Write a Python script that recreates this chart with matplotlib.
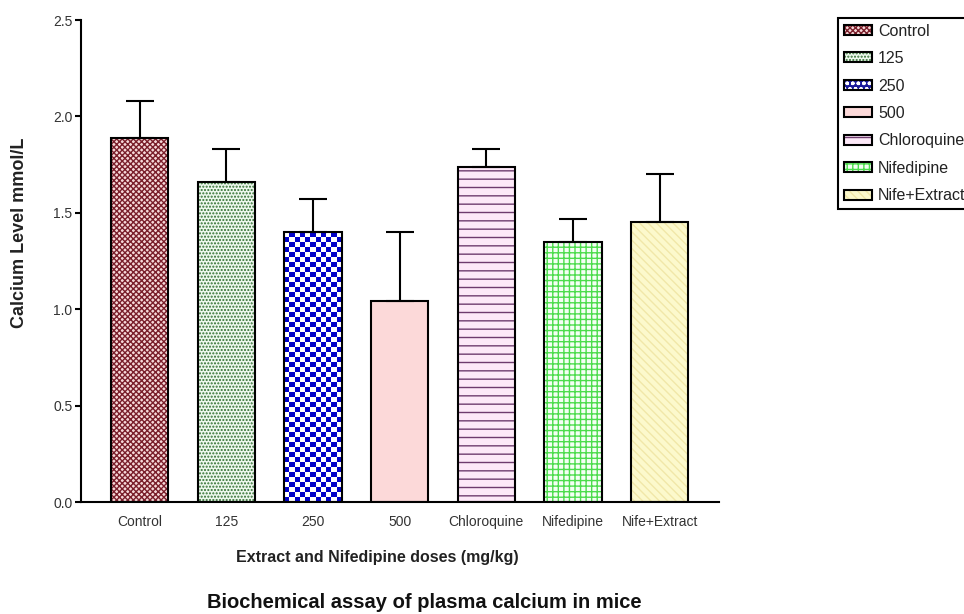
import matplotlib.pyplot as plt
import numpy as np
from matplotlib.patches import Patch
from matplotlib.colors import ListedColormap

plt.rcParams['font.family'] = ['Liberation Sans', 'DejaVu Sans']
plt.rcParams['hatch.linewidth'] = 1.0

# plasma calcium, mean and SEM (mmol/L)
groups = ['Control', '125', '250', '500', 'Chloroquine', 'Nifedipine', 'Nife+Extract']
calcium_mean = [1.89, 1.66, 1.40, 1.04, 1.74, 1.35, 1.45]
calcium_sem = [0.19, 0.17, 0.17, 0.36, 0.09, 0.12, 0.25]

# fill colour, hatch colour, hatch for each group (250 gets a checker texture)
face_colors = ['#f6d8d8', '#eef8ee', '#ffffff', '#fcd9d9', '#fde9f8', '#f4fff4', '#fcf9cc']
hatch_colors = ['#7a1f2b', '#2f6e2f', '#0000c8', '#fcd9d9', '#6e3c6e', '#4cdc4c', '#f1e7a8']
hatches = ['xxxxxx', '.....', '', '', '--', '+++', '\\\\\\\\']


def draw_chart():
    fig = plt.figure(figsize=(9.64, 6.14), dpi=100)
    ax = fig.add_axes([0.0837, 0.1824, 0.6626, 0.7850])

    x = np.arange(len(groups))
    width = 0.66

    ax.bar(x, calcium_mean, width, color=face_colors, edgecolor=hatch_colors,
           hatch=hatches, linewidth=0, zorder=2)

    # checkerboard for the 250 mg/kg bar
    i = groups.index('250')
    x0 = x[i] - width / 2
    h = calcium_mean[i]
    ncols = 11
    nrows = int(round(h / 0.026))
    checker = np.add.outer(np.arange(nrows), np.arange(ncols)) % 2
    ax.imshow(checker, extent=(x0, x0 + width, 0, h), aspect='auto',
              cmap=ListedColormap(['white', '#0000c8']), interpolation='nearest',
              origin='upper', zorder=2)

    ax.bar(x, calcium_mean, width, facecolor='none', edgecolor='black',
           linewidth=1.5, zorder=3)

    ax.errorbar(x, calcium_mean, yerr=[np.zeros(len(x)), calcium_sem], fmt='none',
                ecolor='black', elinewidth=1.5, capsize=10, capthick=1.5, zorder=4)

    ax.set_xlim(-0.68, 6.69)
    ax.set_ylim(0, 2.5)
    ax.set_yticks([0.0, 0.5, 1.0, 1.5, 2.0, 2.5])
    ax.set_yticklabels(['0.0', '0.5', '1.0', '1.5', '2.0', '2.5'])
    ax.set_xticks(x)
    ax.set_xticklabels(groups)
    ax.tick_params(axis='y', direction='out', length=4, width=1.5, labelsize=10,
                   labelcolor='#333333', pad=2)
    ax.tick_params(axis='x', length=0, labelsize=10, labelcolor='#333333', pad=9)

    for side in ['top', 'right']:
        ax.spines[side].set_visible(False)
    for side in ['left', 'bottom']:
        ax.spines[side].set_linewidth(1.5)

    ax.set_ylabel('Calcium Level mmol/L', fontsize=13, fontweight='bold', color='#222222')
    ax.yaxis.set_label_coords(-0.096, 0.558)
    ax.yaxis.label.set_va('center')

    ax.set_xlabel('Extract and Nifedipine doses (mg/kg)', fontsize=11.5,
                  fontweight='bold', color='#222222')
    ax.xaxis.set_label_coords(0.465, -0.116)
    ax.xaxis.label.set_va('center')

    fig.text(424 / 964, 1 - 603 / 614, 'Biochemical assay of plasma calcium in mice',
             ha='center', va='center', fontsize=14.5, fontweight='bold', color='#111111')

    # legend handles: filled/hatched patch under a black outline
    handles = []
    for k in range(len(groups)):
        if groups[k] == '250':
            fill = Patch(facecolor='#1a1a9a', edgecolor='white', hatch='ooo', linewidth=0)
        else:
            fill = Patch(facecolor=face_colors[k], edgecolor=hatch_colors[k],
                         hatch=hatches[k], linewidth=0)
        outline = Patch(facecolor='none', edgecolor='black', linewidth=1.5)
        handles.append((fill, outline))

    leg = fig.legend(handles, groups, loc='upper left', bbox_to_anchor=(838 / 964, 1 - 18 / 614),
                     bbox_transform=fig.transFigure, borderaxespad=0, fontsize=11.5,
                     frameon=True, fancybox=False, edgecolor='black', framealpha=1,
                     handlelength=1.8, handleheight=0.6, handletextpad=0.35,
                     labelspacing=0.78, borderpad=0.35)
    leg.get_frame().set_linewidth(1.5)
    for t in leg.get_texts():
        t.set_color('#222222')

    fig.savefig('out.png', dpi=100)


if __name__ == '__main__':
    draw_chart()
